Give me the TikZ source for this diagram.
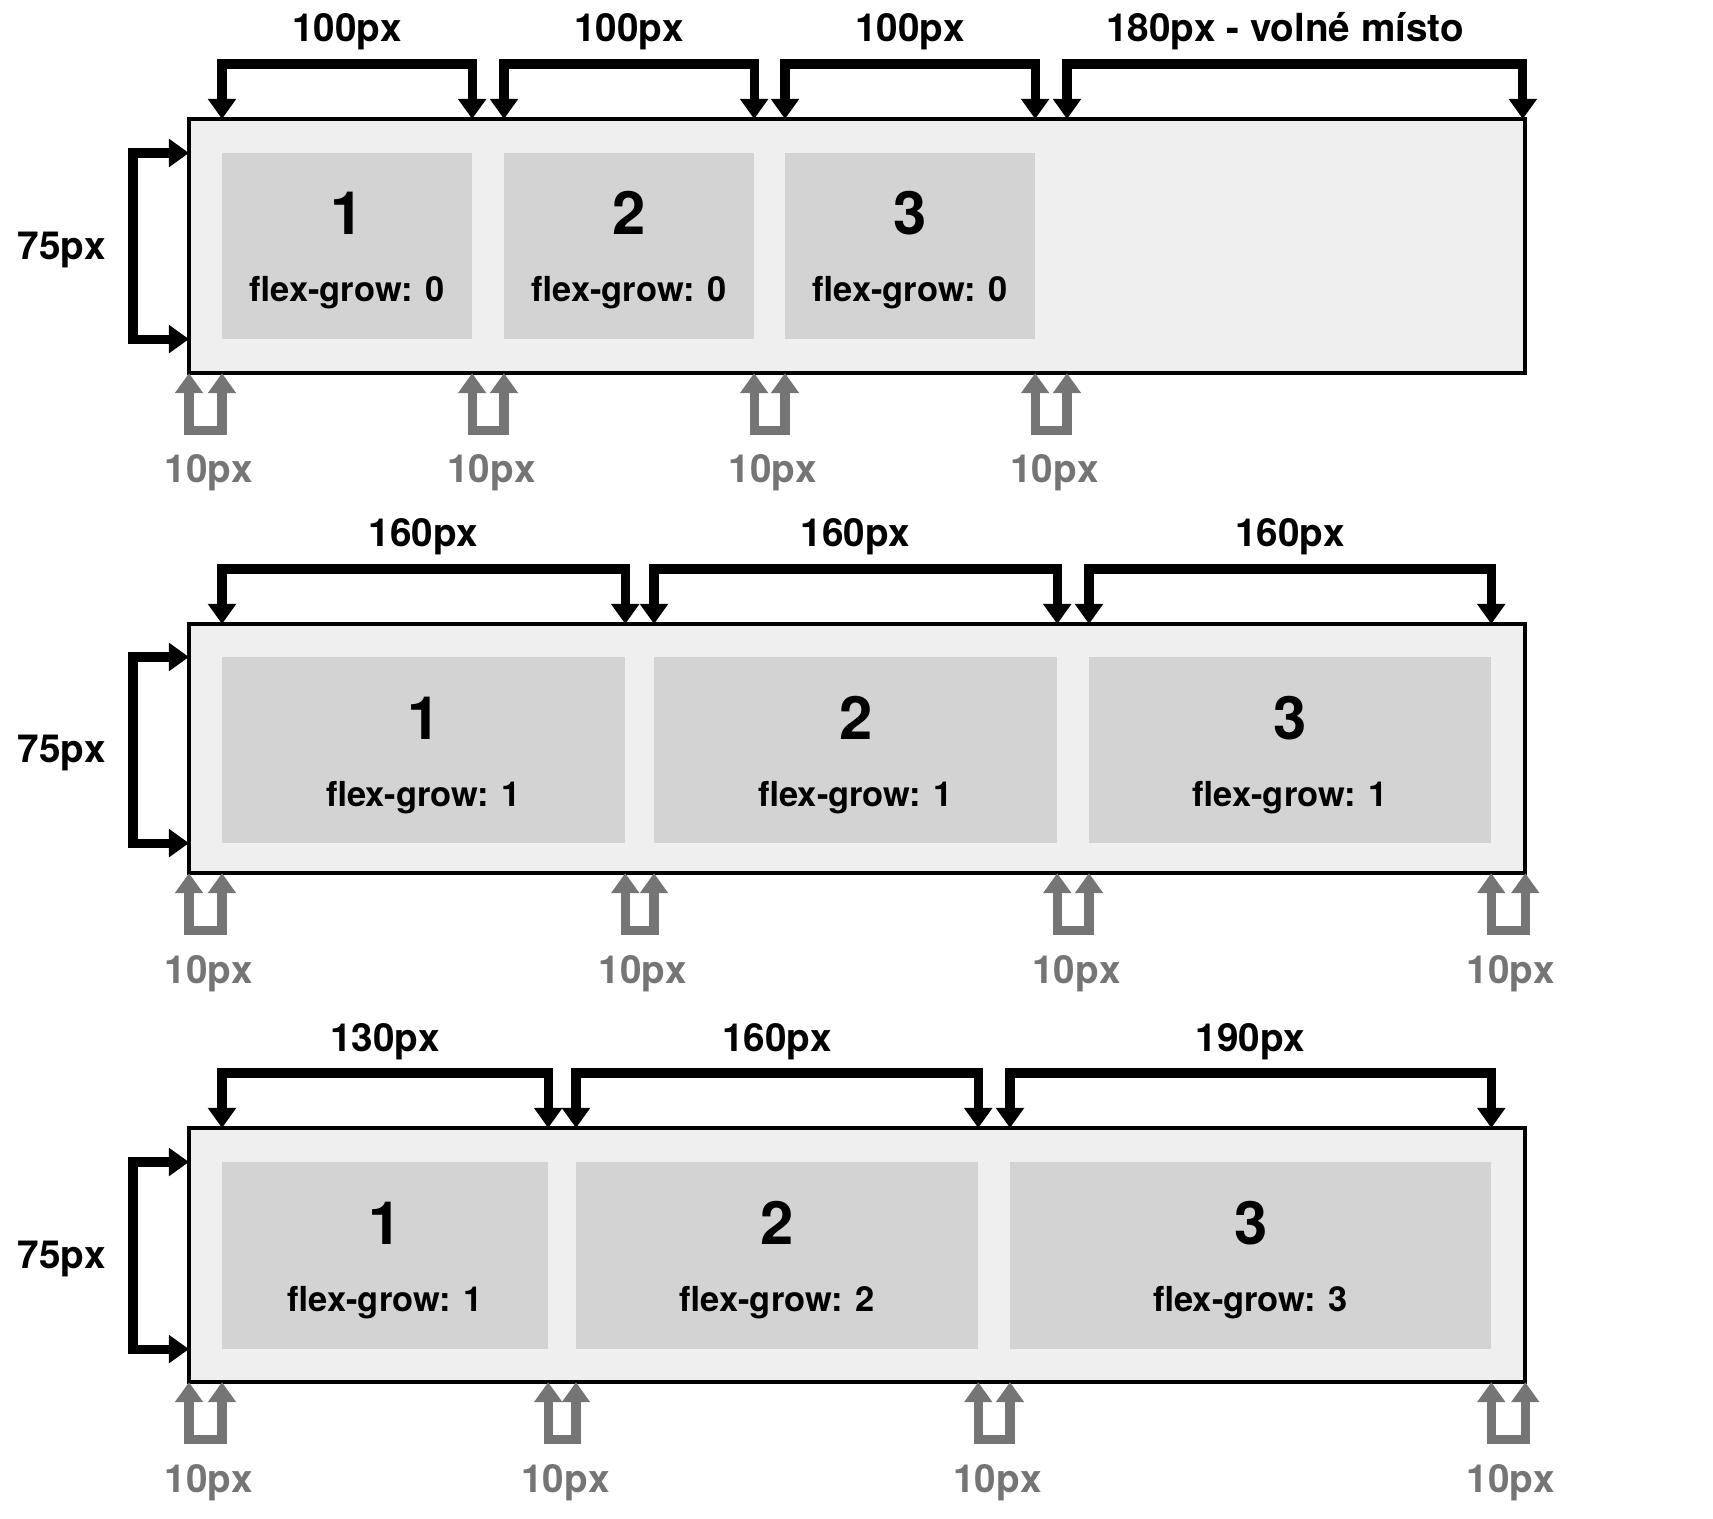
\documentclass[tikz,border=0pt]{standalone}
\usepackage{fontspec}
\setmainfont{TeX Gyre Heros}
\usetikzlibrary{arrows.meta}
\definecolor{boxfill}{RGB}{239,239,239}
\definecolor{itemfill}{RGB}{211,211,211}
\definecolor{gapgray}{RGB}{117,117,117}

\begin{document}
\begin{tikzpicture}[x=0.01cm, y=-0.01cm,
    every node/.style={font=\bfseries, inner sep=0pt, outer sep=0pt},
    >={Triangle[length=5.7pt,width=7.7pt]},
    flexbox/.style={draw=black, line width=1.1pt, fill=boxfill, anchor=north west, minimum width=13.355cm},
    itembox/.style={fill=itemfill, anchor=north west},
    dimarrow/.style={<->, line width=2.6pt},
    gaparrow/.style={<->, line width=2.6pt, draw=gapgray},
    dimlabel/.style={anchor=base, font=\fontsize{11}{13}\bfseries},
    gaplabel/.style={anchor=base, text=gapgray, font=\fontsize{11}{13}\bfseries},
    numtext/.style={anchor=base, font=\fontsize{17}{20}\bfseries},
    growtext/.style={anchor=base, font=\fontsize{9.8}{11}\bfseries}]
    \useasboundingbox (0,0) rectangle (1713,1519);
    % Row 1: flex-grow 0
        \node[flexbox, minimum height=2.54cm] (r1) at (189,119) {};
        \node[itembox, minimum width=2.50cm, minimum height=1.86cm] (a11) at (222,153) {};
        \node[itembox, minimum width=2.50cm, minimum height=1.86cm] (a12) at (504,153) {};
        \node[itembox, minimum width=2.50cm, minimum height=1.86cm] (a13) at (785,153) {};
        \coordinate (free1) at (1067,119);
        \node[numtext] (n11) at (a11 |- 0,235) {1};
        \node[numtext] (n12) at (a12 |- 0,235) {2};
        \node[numtext] (n13) at (a13 |- 0,235) {3};
        \node[growtext] (g11) at (a11 |- 0,302) {flex-grow: 0};
        \node[growtext] (g12) at (a12 |- 0,302) {flex-grow: 0};
        \node[growtext] (g13) at (a13 |- 0,302) {flex-grow: 0};
        \draw[dimarrow] (a11.west |- r1.north) -- ++(0,-55) -| (a11.east |- r1.north);
        \draw[dimarrow] (a12.west |- r1.north) -- ++(0,-55) -| (a12.east |- r1.north);
        \draw[dimarrow] (a13.west |- r1.north) -- ++(0,-55) -| (a13.east |- r1.north);
        \draw[dimarrow] (free1) -- ++(0,-55) -| ([xshift=-0.7pt]r1.north east);
        \node[dimlabel] (w11) at (a11 |- 0,42) {100px};
        \node[dimlabel] (w12) at (a12 |- 0,42) {100px};
        \node[dimlabel] (w13) at (a13 |- 0,42) {100px};
        \node[dimlabel] (w14) at (1285,42) {180px - volné místo};
        \draw[dimarrow] (r1.west |- a11.north) -- ++(-56,0) |- (r1.west |- a11.south);
        \node[dimlabel] (h1) at (62,259.5) {75px};
        \draw[gaparrow] (r1.south west) -- ++(0,57) -| (a11.west |- r1.south);
        \draw[gaparrow] (a11.east |- r1.south) -- ++(0,57) -| (a12.west |- r1.south);
        \draw[gaparrow] (a12.east |- r1.south) -- ++(0,57) -| (a13.west |- r1.south);
        \draw[gaparrow] (a13.east |- r1.south) -- ++(0,57) -| (free1 |- r1.south);
        \node[gaplabel] (p11) at (209,483) {10px};
        \node[gaplabel] (p12) at (491.5,483) {10px};
        \node[gaplabel] (p13) at (773,483) {10px};
        \node[gaplabel] (p14) at (1054.5,483) {10px};
    % Row 2: flex-grow 1, 1, 1
        \node[flexbox, minimum height=2.49cm] (r2) at (189,624) {};
        \node[itembox, minimum width=4.03cm, minimum height=1.86cm] (b21) at (222,657) {};
        \node[itembox, minimum width=4.03cm, minimum height=1.86cm] (b22) at (654,657) {};
        \node[itembox, minimum width=4.02cm, minimum height=1.86cm] (b23) at (1089,657) {};
        \node[numtext] (n21) at (b21 |- 0,739) {1};
        \node[numtext] (n22) at (b22 |- 0,739) {2};
        \node[numtext] (n23) at (b23 |- 0,739) {3};
        \node[growtext] (g21) at (b21 |- 0,806) {flex-grow: 1};
        \node[growtext] (g22) at (b22 |- 0,806) {flex-grow: 1};
        \node[growtext] (g23) at (b23 |- 0,806) {flex-grow: 1};
        \draw[dimarrow] (b21.west |- r2.north) -- ++(0,-55) -| (b21.east |- r2.north);
        \draw[dimarrow] (b22.west |- r2.north) -- ++(0,-55) -| (b22.east |- r2.north);
        \draw[dimarrow] (b23.west |- r2.north) -- ++(0,-55) -| (b23.east |- r2.north);
        \node[dimlabel] (w21) at (b21 |- 0,547) {160px};
        \node[dimlabel] (w22) at (b22 |- 0,547) {160px};
        \node[dimlabel] (w23) at (b23 |- 0,547) {160px};
        \draw[dimarrow] (r2.west |- b21.north) -- ++(-56,0) |- (r2.west |- b21.south);
        \node[dimlabel] (h2) at (62,762) {75px};
        \draw[gaparrow] (r2.south west) -- ++(0,57) -| (b21.west |- r2.south);
        \draw[gaparrow] (b21.east |- r2.south) -- ++(0,57) -| (b22.west |- r2.south);
        \draw[gaparrow] (b22.east |- r2.south) -- ++(0,57) -| (b23.west |- r2.south);
        \draw[gaparrow] (b23.east |- r2.south) -- ++(0,57) -| (r2.south east);
        \node[gaplabel] (p21) at (209,983) {10px};
        \node[gaplabel] (p22) at (643,983) {10px};
        \node[gaplabel] (p23) at (1076.5,983) {10px};
        \node[gaplabel] (p24) at (1511,983) {10px};
    % Row 3: flex-grow 1, 2, 3
        \node[flexbox, minimum height=2.54cm] (r3) at (189,1128) {};
        \node[itembox, minimum width=3.26cm, minimum height=1.87cm] (c31) at (222,1162) {};
        \node[itembox, minimum width=4.02cm, minimum height=1.87cm] (c32) at (576,1162) {};
        \node[itembox, minimum width=4.81cm, minimum height=1.87cm] (c33) at (1010,1162) {};
        \node[numtext] (n31) at (c31 |- 0,1244) {1};
        \node[numtext] (n32) at (c32 |- 0,1244) {2};
        \node[numtext] (n33) at (c33 |- 0,1244) {3};
        \node[growtext] (g31) at (c31 |- 0,1311) {flex-grow: 1};
        \node[growtext] (g32) at (c32 |- 0,1311) {flex-grow: 2};
        \node[growtext] (g33) at (c33 |- 0,1311) {flex-grow: 3};
        \draw[dimarrow] (c31.west |- r3.north) -- ++(0,-55) -| (c31.east |- r3.north);
        \draw[dimarrow] (c32.west |- r3.north) -- ++(0,-55) -| (c32.east |- r3.north);
        \draw[dimarrow] (c33.west |- r3.north) -- ++(0,-55) -| (c33.east |- r3.north);
        \node[dimlabel] (w31) at (c31 |- 0,1051) {130px};
        \node[dimlabel] (w32) at (c32 |- 0,1051) {160px};
        \node[dimlabel] (w33) at (c33 |- 0,1051) {190px};
        \draw[dimarrow] (r3.west |- c31.north) -- ++(-56,0) |- (r3.west |- c31.south);
        \node[dimlabel] (h3) at (62,1268) {75px};
        \draw[gaparrow] (r3.south west) -- ++(0,57) -| (c31.west |- r3.south);
        \draw[gaparrow] (c31.east |- r3.south) -- ++(0,57) -| (c32.west |- r3.south);
        \draw[gaparrow] (c32.east |- r3.south) -- ++(0,57) -| (c33.west |- r3.south);
        \draw[gaparrow] (c33.east |- r3.south) -- ++(0,57) -| (r3.south east);
        \node[gaplabel] (p31) at (209,1492) {10px};
        \node[gaplabel] (p32) at (565.5,1492) {10px};
        \node[gaplabel] (p33) at (997.5,1492) {10px};
        \node[gaplabel] (p34) at (1511,1492) {10px};
\end{tikzpicture}
\end{document}
